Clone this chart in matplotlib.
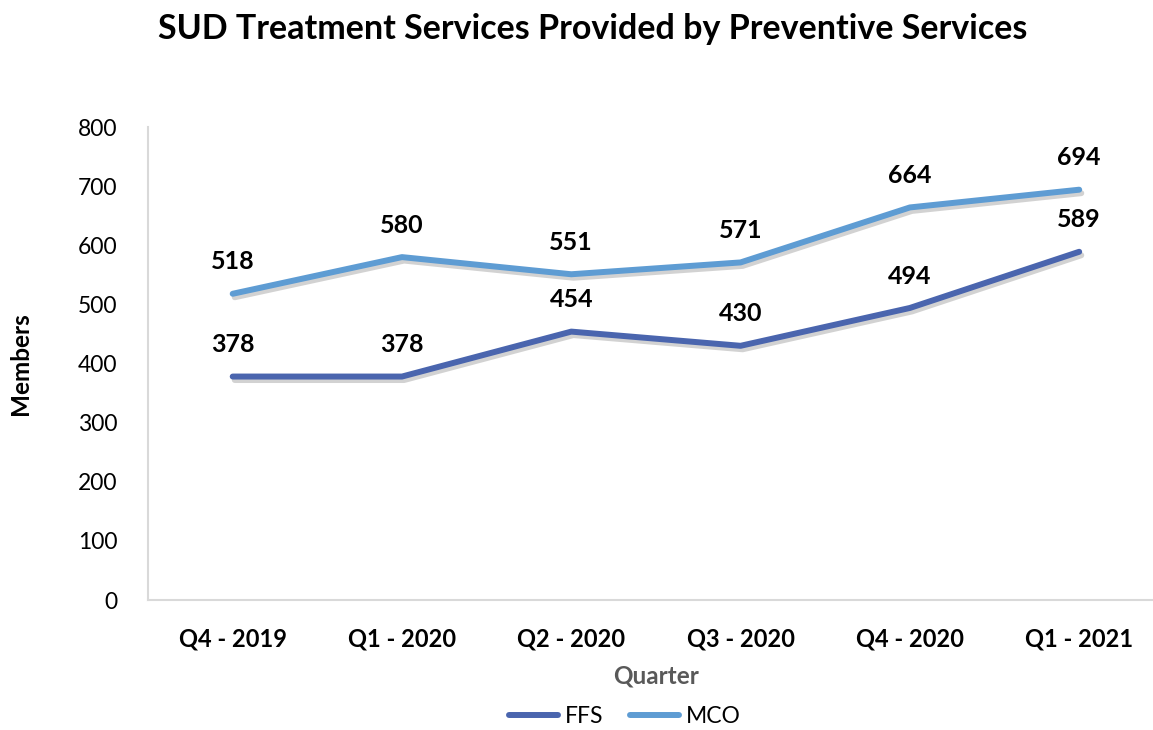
import matplotlib
matplotlib.use("Agg")
import matplotlib.pyplot as plt
import matplotlib.patheffects as pe
from matplotlib.lines import Line2D

# data
quarters = ['Q4 - 2019', 'Q1 - 2020', 'Q2 - 2020', 'Q3 - 2020', 'Q4 - 2020', 'Q1 - 2021']
ffs = [378, 378, 454, 430, 494, 589]
mco = [518, 580, 551, 571, 664, 694]

plt.rcParams['font.family'] = ['Lato', 'DejaVu Sans']

fig = plt.figure(figsize=(11.53, 7.30), dpi=100)
ax = fig.add_axes([0.1284, 0.178, 0.881, 0.648])

c_ffs = '#4A65AE'
c_mco = '#5E9CD3'
shadow = [pe.SimpleLineShadow(offset=(1.5, -2.5), shadow_color='#7f7f7f', alpha=0.35), pe.Normal()]
x = list(range(len(quarters)))
ax.plot(x, ffs, color=c_ffs, lw=4.3, solid_capstyle='round', path_effects=shadow, clip_on=False)
ax.plot(x, mco, color=c_mco, lw=4.3, solid_capstyle='round', path_effects=shadow, clip_on=False)

for xi, v in zip(x, ffs):
    ax.annotate(str(v), (xi, v), xytext=(0, 23), textcoords='offset points', ha='center', va='center',
                fontsize=18, fontweight='bold')
for xi, v in zip(x, mco):
    ax.annotate(str(v), (xi, v), xytext=(0, 23), textcoords='offset points', ha='center', va='center',
                fontsize=18, fontweight='bold')

ax.set_xlim(-0.5, 5.5)
ax.set_ylim(0, 800)
ax.set_yticks(range(0, 801, 100))
ax.set_xticks(x)
ax.set_xticklabels(quarters, fontsize=17, fontweight='bold')
ax.tick_params(axis='y', labelsize=16.5, length=0, pad=22)
ax.tick_params(axis='x', length=0, pad=20)
for s in ['top', 'right']:
    ax.spines[s].set_visible(False)
for s in ['left', 'bottom']:
    ax.spines[s].set_color('#D9D9D9')
    ax.spines[s].set_linewidth(1.5)

ax.set_ylabel('Members', fontsize=17.5, fontweight='bold', labelpad=33)
ax.set_xlabel('Quarter', fontsize=17.5, fontweight='bold', color='#595959', labelpad=10)
fig.text(0.514, 0.96, 'SUD Treatment Services Provided by Preventive Services', ha='center', va='center',
         fontsize=24.5, fontweight='bold')

handles = [Line2D([], [], color=c_ffs, lw=4.3, solid_capstyle='round'),
           Line2D([], [], color=c_mco, lw=4.3, solid_capstyle='round')]
fig.legend(handles, ['FFS', 'MCO'], loc='center', bbox_to_anchor=(0.542, 0.018), ncol=2, frameon=False,
           fontsize=16.5, handlelength=2.1, columnspacing=1.2, handletextpad=0.3)

fig.savefig('out.png', dpi=100)
